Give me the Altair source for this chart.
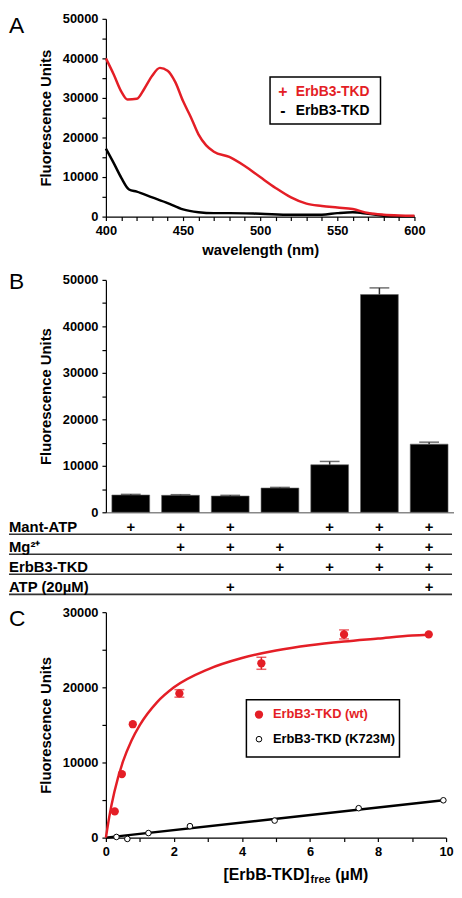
import altair as alt
import pandas as pd

FONT = "Liberation Sans"
RED = "#e41e26"

# ---------------- Panel A : emission spectra ----------------
a_wl_plus = [400, 405, 410, 414, 420, 425, 430, 435, 440, 445, 450, 455, 460, 465, 470,
             480, 490, 500, 510, 520, 530, 540, 550, 560, 570, 580, 590, 600]
a_fu_plus = [40000, 36000, 31600, 29600, 29800, 32400, 35600, 37600, 36900, 34000, 29200,
             25200, 20800, 18000, 16400, 15100, 12800, 10000, 7250, 4860, 3270, 2700, 2300,
             1900, 900, 480, 300, 240]
a_wl_minus = [400, 405, 410, 415, 420, 430, 440, 450, 460, 470, 480, 500, 520, 540, 550,
              560, 570, 580, 590, 600]
a_fu_minus = [17200, 13600, 9800, 6860, 6300, 4860, 3430, 1830, 1120, 880, 880, 720, 480,
              480, 880, 1120, 720, 240, 80, 80]
a_x_ticks = list(range(400, 601, 10))
a_x_labels = [400, 450, 500, 550, 600]
a_legend_symbols = ["+", "-"]
a_legend_labels = ["ErbB3-TKD", "ErbB3-TKD"]

# ---------------- Panel B : bar chart + condition table ----------------
b_conditions = ["c1", "c2", "c3", "c4", "c5", "c6", "c7"]
b_values = [3720, 3650, 3500, 5220, 10230, 46850, 14660]
b_err_top = [3860, 3790, 3650, 5360, 10940, 48280, 15090]
table_rows = ["Mant-ATP", "Mg²⁺", "ErbB3-TKD", "ATP (20µM)"]
table_flags = [
    [1, 1, 1, 0, 1, 1, 1],
    [0, 1, 1, 1, 0, 1, 1],
    [0, 0, 0, 1, 1, 1, 1],
    [0, 0, 1, 0, 0, 0, 1],
]

# ---------------- Panel C : titration ----------------
c_wt_x = [0.26, 0.47, 0.79, 2.16, 4.57, 7.0, 9.49]
c_wt_y = [3490, 8460, 15090, 19190, 23200, 27040, 27040]
c_wt_err = [0, 0, 0, 500, 800, 600, 0]
c_mut_x = [0.31, 0.63, 1.25, 2.47, 4.96, 7.43, 9.92]
c_mut_y = [90, -170, 610, 1530, 2270, 3920, 4970]
c_fit_wt_x = [0, 0.1, 0.25, 0.5, 0.75, 1.0, 1.5, 2.0, 3.0, 4.0, 5.0, 6.0, 7.0, 8.0, 9.0, 9.5]
c_fit_wt_y = [0, 2800, 6100, 10100, 12900, 15000, 18000, 20000, 22400, 23900, 24900, 25600,
              26100, 26500, 26900, 27000]
c_fit_mut_x = [0, 9.92]
c_fit_mut_y = [0, 4970]
c_x_ticks = list(range(0, 11, 1))
c_x_labels = [0, 2, 4, 6, 8, 10]
c_legend_labels = ["ErbB3-TKD (wt)", "ErbB3-TKD (K723M)"]

# ---------------- layout constants ----------------
LEFT = -98
WA, HA = 312, 200
WB, HB = 352, 235
WC, HC = 344, 228
ROW_PX = 20.3
T_TOP, T_BOT = 0.3, 4.05


def label_expr(labels):
    return "indexof([" + ",".join(str(v) for v in labels) + "], datum.value) >= 0 ? datum.label : ''"


def y_axis(maxv):
    return alt.Axis(values=list(range(0, maxv + 1, 5000)),
                    labelExpr=label_expr(list(range(0, maxv + 1, 10000))),
                    format="d", title="Fluorescence Units", tickSize=4,
                    labelPadding=4, titlePadding=9, labelOverlap=False, labelFlush=False)


def letter(ch, y):
    return alt.Chart(pd.DataFrame({"t": [ch]})).mark_text(
        align="left", baseline="middle", fontSize=23, font=FONT, color="black"
    ).encode(text="t:N", x=alt.value(LEFT), y=alt.value(y))


# ---- Panel A ----
xA = alt.Scale(domain=[400, 600], nice=False)
yA = alt.Scale(domain=[0, 50000], nice=False)
dfA_plus = pd.DataFrame({"wl": a_wl_plus, "fu": a_fu_plus})
dfA_minus = pd.DataFrame({"wl": a_wl_minus, "fu": a_fu_minus})

xA_axis = alt.Axis(values=a_x_ticks, labelExpr=label_expr(a_x_labels),
                   title="wavelength (nm)", tickSize=4, labelPadding=4, titlePadding=5,
                   labelOverlap=False, labelFlush=False)
yA_axis = y_axis(50000)


def XA(f):
    return alt.X(f, type="quantitative", scale=xA, axis=xA_axis)


def YA(f):
    return alt.Y(f, type="quantitative", scale=yA, axis=yA_axis)


lineA_minus = alt.Chart(dfA_minus).mark_line(
    color="black", strokeWidth=2.5, interpolate="monotone"
).encode(x=XA("wl"), y=YA("fu"))
lineA_plus = alt.Chart(dfA_plus).mark_line(
    color=RED, strokeWidth=2.5, interpolate="monotone"
).encode(x=XA("wl"), y=YA("fu"))

legA_box = alt.Chart(pd.DataFrame({"x": [506.4], "x2": [578], "y": [35300], "y2": [23400]})).mark_rect(
    fill="white", stroke="black", strokeWidth=1.5
).encode(x=XA("x"), x2="x2", y=YA("y"), y2="y2")
dfLegA = pd.DataFrame({
    "sym": a_legend_symbols, "lab": a_legend_labels,
    "y": [31600, 26600], "c": [RED, "black"],
    "xs": [514.7, 514.7], "xt": [523, 523]})
legA_sym = alt.Chart(dfLegA).mark_text(
    align="center", baseline="middle", fontSize=16, fontWeight="bold", font=FONT
).encode(x=XA("xs"), y=YA("y"), text="sym:N", color=alt.Color("c:N", scale=None))
legA_txt = alt.Chart(dfLegA).mark_text(
    align="left", baseline="middle", fontSize=14, fontWeight="bold", font=FONT
).encode(x=XA("xt"), y=YA("y"), text="lab:N", color=alt.Color("c:N", scale=None))

panelA = alt.layer(lineA_minus, lineA_plus, legA_box, legA_sym, legA_txt, letter("A", 7)).properties(
    width=WA, height=HA)

# ---- Panel B ----
xB = alt.Scale(domain=b_conditions, paddingInner=0.24, paddingOuter=0.12)
yB = alt.Scale(domain=[0, 50000], nice=False)
xB_axis = alt.Axis(labels=False, ticks=False, title=None, domainColor="#888", domainWidth=1.5)
yB_axis = y_axis(50000)
dfB = pd.DataFrame({"cond": b_conditions, "val": b_values, "hi": b_err_top})


def XB():
    return alt.X("cond:N", scale=xB, sort=b_conditions, axis=xB_axis)


barsB = alt.Chart(dfB).mark_bar(color="black", stroke="#666", strokeWidth=0.6).encode(
    x=XB(), y=alt.Y("val:Q", scale=yB, axis=yB_axis))
errB = alt.Chart(dfB).mark_rule(color="#333", strokeWidth=1.5).encode(
    x=XB(), y=alt.Y("val:Q", scale=yB, axis=yB_axis), y2="hi:Q")
capB = alt.Chart(dfB).mark_tick(color="#333", size=20, thickness=1.5, orient="horizontal").encode(
    x=XB(), y=alt.Y("hi:Q", scale=yB, axis=yB_axis))

panelB = alt.layer(barsB, errB, capB, letter("B", 2.5)).properties(width=WB, height=HB)

# ---- Table under panel B ----
plus_rows = []
for ri, flags in enumerate(table_flags):
    for ci, f in enumerate(flags):
        if f:
            plus_rows.append({"cond": b_conditions[ci], "row": ri + 1, "sym": "+"})
dfPlus = pd.DataFrame(plus_rows)
dfRows = pd.DataFrame({"label": table_rows, "row": [1, 2, 3, 4]})
yT = alt.Scale(domain=[T_TOP, T_BOT], reverse=True, nice=False, zero=False)
HT = round((T_BOT - T_TOP) * ROW_PX)

tPlus = alt.Chart(dfPlus).mark_text(
    fontSize=15, fontWeight="bold", font=FONT, color="black", baseline="middle", dy=-7
).encode(x=alt.X("cond:N", scale=xB, sort=b_conditions, axis=None),
         y=alt.Y("row:Q", scale=yT, axis=None), text="sym:N")
tLab = alt.Chart(dfRows).mark_text(
    fontSize=15, fontWeight="bold", font=FONT, color="black", align="left", baseline="middle", dy=-7
).encode(x=alt.value(LEFT), y=alt.Y("row:Q", scale=yT, axis=None), text="label:N")
tLines = alt.Chart(dfRows).mark_rule(color="#333", strokeWidth=1.6).encode(
    x=alt.value(LEFT), x2=alt.value(WB - 2), y=alt.Y("row:Q", scale=yT, axis=None))

table = alt.layer(tLines, tLab, tPlus).properties(width=WB, height=HT)

# ---- Panel C ----
xC = alt.Scale(domain=[0, 10], nice=False)
yC = alt.Scale(domain=[0, 30000], nice=False)
xC_axis = alt.Axis(values=c_x_ticks, labelExpr=label_expr(c_x_labels),
                   title=" ", titleFontSize=1, tickSize=4, labelPadding=4,
                   labelOverlap=False, labelFlush=False)
yC_axis = y_axis(30000)


def XC(f):
    return alt.X(f, type="quantitative", scale=xC, axis=xC_axis)


def YC(f):
    return alt.Y(f, type="quantitative", scale=yC, axis=yC_axis)


dfFitWt = pd.DataFrame({"x": c_fit_wt_x, "y": c_fit_wt_y})
dfFitMut = pd.DataFrame({"x": c_fit_mut_x, "y": c_fit_mut_y})
dfWt = pd.DataFrame({"x": c_wt_x, "y": c_wt_y, "err": c_wt_err})
dfWt["lo"] = dfWt["y"] - dfWt["err"]
dfWt["hi"] = dfWt["y"] + dfWt["err"]
dfWtErr = dfWt[dfWt["err"] > 0]
dfMut = pd.DataFrame({"x": c_mut_x, "y": c_mut_y})

fitMut = alt.Chart(dfFitMut).mark_line(color="black", strokeWidth=2.5).encode(x=XC("x"), y=YC("y"))
fitWt = alt.Chart(dfFitWt).mark_line(color=RED, strokeWidth=2.5, interpolate="monotone").encode(
    x=XC("x"), y=YC("y"))
errWt = alt.Chart(dfWtErr).mark_rule(color=RED, strokeWidth=1.5).encode(
    x=XC("x"), y=YC("lo"), y2="hi:Q")
capWt = alt.Chart(dfWtErr).transform_fold(["lo", "hi"], as_=["k", "v"]).mark_tick(
    color=RED, size=10, thickness=1.5, orient="horizontal"
).encode(x=XC("x"), y=YC("v"))
ptsWt = alt.Chart(dfWt).mark_point(filled=True, color=RED, size=70, opacity=1).encode(
    x=XC("x"), y=YC("y"))
ptsMut = alt.Chart(dfMut).mark_point(filled=True, fill="white", stroke="black", strokeWidth=1,
                                      size=32, opacity=1).encode(x=XC("x"), y=YC("y"))

legC_box = alt.Chart(pd.DataFrame({"x": [4.13], "x2": [8.63], "y": [18340], "y2": [10740]})).mark_rect(
    fill="white", stroke="black", strokeWidth=1.5
).encode(x=XC("x"), x2="x2", y=YC("y"), y2="y2")
dfLegC = pd.DataFrame({"lab": c_legend_labels, "y": [16380, 13100], "c": [RED, "black"],
                       "xs": [4.5, 4.5], "xt": [4.91, 4.91]})
legC_wt = alt.Chart(dfLegC.iloc[[0]]).mark_point(filled=True, color=RED, size=70, opacity=1).encode(
    x=XC("xs"), y=YC("y"))
legC_mut = alt.Chart(dfLegC.iloc[[1]]).mark_point(filled=True, fill="white", stroke="black",
                                                  strokeWidth=1, size=32, opacity=1).encode(
    x=XC("xs"), y=YC("y"))
legC_txt = alt.Chart(dfLegC).mark_text(
    align="left", baseline="middle", fontSize=13, fontWeight="bold", font=FONT
).encode(x=XC("xt"), y=YC("y"), text="lab:N", color=alt.Color("c:N", scale=None))

title_main = alt.Chart(pd.DataFrame({"t": ["[ErbB-TKD]"]})).mark_text(
    align="right", baseline="middle", fontSize=16, fontWeight="bold", font=FONT, color="black"
).encode(text="t:N", x=alt.value(206), y=alt.value(HC + 38))
title_sub = alt.Chart(pd.DataFrame({"t": ["free"]})).mark_text(
    align="left", baseline="middle", fontSize=11, fontWeight="bold", font=FONT, color="black"
).encode(text="t:N", x=alt.value(207), y=alt.value(HC + 43))
title_unit = alt.Chart(pd.DataFrame({"t": ["(µM)"]})).mark_text(
    align="left", baseline="middle", fontSize=16, fontWeight="bold", font=FONT, color="black"
).encode(text="t:N", x=alt.value(232), y=alt.value(HC + 38))

panelC = alt.layer(fitMut, fitWt, errWt, capWt, ptsWt, ptsMut, legC_box, legC_wt, legC_mut,
                   legC_txt, title_main, title_sub, title_unit, letter("C", 7)).properties(
    width=WC, height=HC)

top = alt.vconcat(panelA, panelB, spacing=14)
bottom = alt.vconcat(table, panelC, spacing=11)
chart = alt.vconcat(top, bottom, spacing=1).properties(padding=0).configure_axis(
    labelFont=FONT, titleFont=FONT, labelFontSize=13, titleFontSize=15,
    labelFontWeight="bold", titleFontWeight="bold", labelColor="black", titleColor="black",
    domainColor="black", tickColor="black", grid=False, domainWidth=1.2, tickWidth=1.2,
    labelOverlap=False
).configure_view(strokeOpacity=0)

chart.save("out.html", embed_options={"renderer": "svg", "actions": False})
